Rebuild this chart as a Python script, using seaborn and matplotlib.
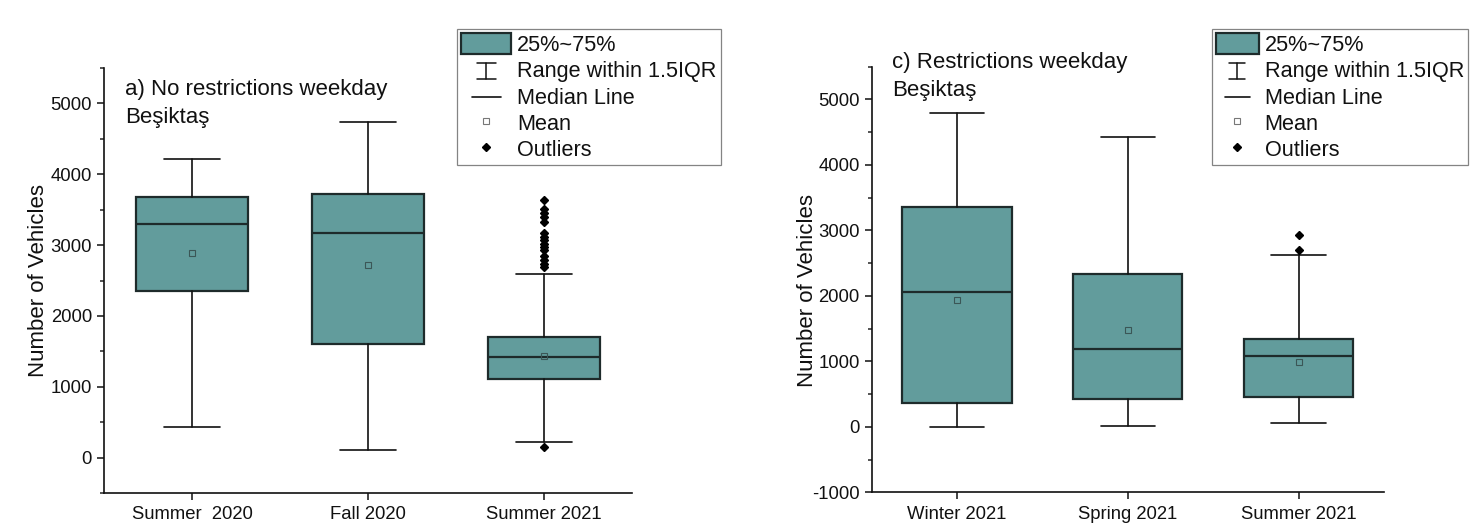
import numpy as np
import matplotlib
matplotlib.use("Agg")
import matplotlib.pyplot as plt
import seaborn as sns
from matplotlib.lines import Line2D
from matplotlib.patches import Patch
from matplotlib.legend_handler import HandlerBase
from matplotlib.ticker import MultipleLocator

# ---- data: five-number summaries, means and outliers per season ----
left_categories = ["Summer  2020", "Fall 2020", "Summer 2021"]
left_whislo = [428, 103, 226]
left_q1 = [2353, 1610, 1106]
left_median = [3291, 3172, 1421]
left_q3 = [3672, 3715, 1703]
left_whishi = [4217, 4736, 2589]
left_mean = [2886, 2712, 1435]
left_outliers = [
    [],
    [],
    [150, 2684, 2740, 2787, 2843, 2928, 2975, 3022, 3069, 3116, 3164,
     3328, 3390, 3446, 3503, 3634],
]

right_categories = ["Winter 2021", "Spring 2021", "Summer 2021"]
right_whislo = [0, 10, 61]
right_q1 = [363, 424, 460]
right_median = [2052, 1194, 1083]
right_q3 = [3354, 2328, 1343]
right_whishi = [4799, 4432, 2619]
right_mean = [1930, 1481, 986]
right_outliers = [[], [], [2695, 2925]]

left_title = "a) No restrictions weekday\nBeşiktaş"
right_title = "c) Restrictions weekday\nBeşiktaş"
ylabel = "Number of Vehicles"
legend_labels = ["25%~75%", "Range within 1.5IQR", "Median Line", "Mean", "Outliers"]

# ---- style ----
sns.set_style("ticks")
plt.rcParams["font.family"] = ["Liberation Sans", "DejaVu Sans"]
plt.rcParams["axes.unicode_minus"] = False

BOX_FILL = "#629c9c"
BOX_EDGE = "#1e2b2b"
LINE = "#111111"


def make_stats(cats, lo, q1, med, q3, hi, mean, fliers):
    return [
        dict(label=c, whislo=a, q1=b, med=m, q3=d, whishi=e, mean=mu,
             fliers=np.asarray(f, dtype=float))
        for c, a, b, m, d, e, mu, f in zip(cats, lo, q1, med, q3, hi, mean, fliers)
    ]


def draw_panel(ax, stats, ylim, title, title_y, label_y):
    ax.bxp(
        stats,
        positions=range(len(stats)),
        widths=0.64,
        capwidths=0.32,
        patch_artist=True,
        showmeans=True,
        showfliers=True,
        boxprops=dict(facecolor=BOX_FILL, edgecolor=BOX_EDGE, linewidth=1.6),
        medianprops=dict(color=BOX_EDGE, linewidth=1.6),
        whiskerprops=dict(color=LINE, linewidth=1.2),
        capprops=dict(color=LINE, linewidth=1.2),
        meanprops=dict(marker="s", markersize=4, markerfacecolor="none",
                       markeredgecolor="#3b5656", markeredgewidth=0.8),
        flierprops=dict(marker="D", markersize=4.5, markerfacecolor="black",
                        markeredgecolor="black"),
    )
    ax.set_xlim(-0.5, len(stats) - 0.5)
    ax.set_ylim(*ylim)
    ax.yaxis.set_major_locator(MultipleLocator(1000))
    ax.yaxis.set_minor_locator(MultipleLocator(500))
    ax.tick_params(axis="both", which="major", direction="out", length=5.2,
                   width=1.1, labelsize=13.3, colors="#111111")
    ax.tick_params(axis="y", which="major", pad=3.5)
    ax.tick_params(axis="x", which="major", pad=4.5)
    ax.tick_params(axis="y", which="minor", direction="out", length=3.2, width=1.1)
    ax.tick_params(axis="x", which="minor", length=0)
    for side in ("left", "bottom"):
        ax.spines[side].set_linewidth(1.2)
        ax.spines[side].set_color("#111111")
    sns.despine(ax=ax)
    ax.set_ylabel(ylabel, fontsize=16, color="#111111")
    ax.yaxis.set_label_coords(-0.105, label_y)
    ax.text(0.04, title_y, title, transform=ax.transAxes, fontsize=16,
            color="#111111", ha="left", va="top", linespacing=1.42)
    ax.set_facecolor("white")


class IBeamHandler(HandlerBase):
    def create_artists(self, legend, orig_handle, xdescent, ydescent,
                       width, height, fontsize, trans):
        cx = -xdescent + width / 2
        y0 = -ydescent + 0.08 * height
        y1 = -ydescent + 0.82 * height
        cap = 0.19 * width
        segs = [([cx, cx], [y0, y1]),
                ([cx - cap, cx + cap], [y0, y0]),
                ([cx - cap, cx + cap], [y1, y1])]
        arts = []
        for xs, ys in segs:
            ln = Line2D(xs, ys, color=LINE, linewidth=1.1)
            ln.set_transform(trans)
            arts.append(ln)
        return arts


class ShortLineHandler(HandlerBase):
    def create_artists(self, legend, orig_handle, xdescent, ydescent,
                       width, height, fontsize, trans):
        cx = -xdescent + width / 2
        cy = -ydescent + 0.45 * height
        half = 0.29 * width
        ln = Line2D([cx - half, cx + half], [cy, cy], color=LINE, linewidth=1.2)
        ln.set_transform(trans)
        return [ln]


class IBeam:
    pass


class ShortLine:
    pass


def add_legend(fig, anchor, handlelength):
    handles = [
        Patch(facecolor=BOX_FILL, edgecolor=BOX_EDGE, linewidth=1.6),
        IBeam(),
        ShortLine(),
        Line2D([], [], linestyle="none", marker="s", markersize=4,
               markerfacecolor="none", markeredgecolor="#777777", markeredgewidth=0.8),
        Line2D([], [], linestyle="none", marker="D", markersize=4.5,
               markerfacecolor="black", markeredgecolor="black"),
    ]
    leg = fig.legend(
        handles, legend_labels, loc="upper left", bbox_to_anchor=anchor,
        bbox_transform=fig.transFigure, borderaxespad=0, fontsize=15.6,
        frameon=True, fancybox=False, edgecolor="#666666",
        handlelength=handlelength, handleheight=1.1, handletextpad=0.28,
        labelspacing=0.16, borderpad=0.2,
        handler_map={IBeam: IBeamHandler(), ShortLine: ShortLineHandler()},
    )
    leg.get_frame().set_linewidth(0.9)
    for t in leg.get_texts():
        t.set_color("#111111")
    return leg


fig = plt.figure(figsize=(14.72, 5.25), dpi=100)
fig.patch.set_facecolor("white")

ax_left = fig.add_axes([104 / 1472, 1 - 493 / 525, 528 / 1472, 425 / 525])
ax_right = fig.add_axes([871.7 / 1472, 1 - 492.3 / 525, 512.3 / 1472, 425.6 / 525])

draw_panel(
    ax_left,
    make_stats(left_categories, left_whislo, left_q1, left_median, left_q3,
               left_whishi, left_mean, left_outliers),
    (-500, 5500), left_title, 0.974, 0.5,
)
draw_panel(
    ax_right,
    make_stats(right_categories, right_whislo, right_q1, right_median, right_q3,
               right_whishi, right_mean, right_outliers),
    (-1000, 5500), right_title, 1.035, 0.473,
)

add_legend(fig, (457 / 1472, 1 - 29 / 525), 2.3)
add_legend(fig, (1212 / 1472, 1 - 29 / 525), 1.95)

fig.savefig("out.png", dpi=100, facecolor="white")
